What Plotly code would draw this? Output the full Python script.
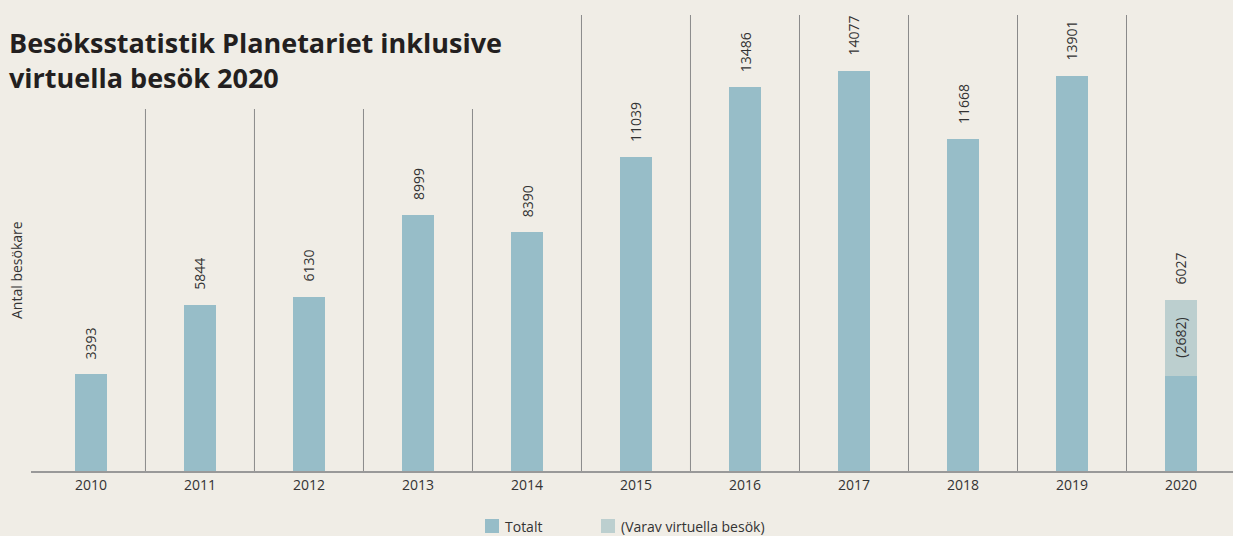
import plotly.graph_objects as go

years = ["2010", "2011", "2012", "2013", "2014", "2015", "2016", "2017", "2018", "2019", "2020"]
totals = [3393, 5844, 6130, 8999, 8390, 11039, 13486, 14077, 11668, 13901, 6027]
virtual = [0, 0, 0, 0, 0, 0, 0, 0, 0, 0, 2682]
physical = [t - v for t, v in zip(totals, virtual)]
series_names = ["Totalt", "(Varav virtuella besök)"]
title_lines = ["Besöksstatistik Planetariet inklusive", "virtuella besök 2020"]
y_title = "Antal besökare"

BG = "#f0ede6"
C_TOT = "#97bdc8"
C_VIRT = "#bccfcf"
TXT = "#333333"
FONT = "Open Sans"

W, H = 1233, 536
ML, MR, MT, MB = 31, 0, 15, 65
PW, PH = W - ML - MR, H - MT - MB


def px(xp):
    return (xp - ML) / PW


def py(yp):
    return (H - MB - yp) / PH


fig = go.Figure()
fig.add_bar(x=list(range(len(years))), y=physical, name=series_names[0],
            marker=dict(color=C_TOT, line=dict(width=0)), width=0.3, hoverinfo="skip")
fig.add_bar(x=list(range(len(years))), y=virtual, name=series_names[1],
            marker=dict(color=C_VIRT, line=dict(width=0)), width=0.3, hoverinfo="skip")

annotations = []
for i, t in enumerate(totals):
    annotations.append(dict(x=i, y=t, xref="x", yref="y", text=str(t), textangle=-90,
                            showarrow=False, xanchor="center", yanchor="bottom", yshift=13,
                            font=dict(family=FONT, size=14, color=TXT)))
for i, (p, v) in enumerate(zip(physical, virtual)):
    if v > 0:
        annotations.append(dict(x=i, y=p + v / 2, xref="x", yref="y", text=f"({v})",
                                textangle=-90, showarrow=False, xanchor="center", yanchor="middle",
                                font=dict(family=FONT, size=14, color=TXT)))

# title
annotations.append(dict(x=px(7), y=py(22), xref="paper", yref="paper", xanchor="left",
                        yanchor="top", align="left",
                        text="<br>".join(title_lines), showarrow=False,
                        font=dict(family=FONT, size=27, color="#231f20", weight=700)))

# y-axis title
annotations.append(dict(x=px(16), y=py(270), xref="paper", yref="paper", xanchor="center",
                        yanchor="middle", text=y_title, textangle=-90, showarrow=False,
                        font=dict(family=FONT, size=14, color=TXT)))

shapes = []
for i in range(len(years) - 1):
    top = py(109) if i < 4 else 1.0
    shapes.append(dict(type="line", xref="x", yref="paper", x0=i + 0.5, x1=i + 0.5,
                       y0=0, y1=top, line=dict(color="#8a8a8a", width=1)))

# manual legend
legend_items = [(485, 503, C_TOT, series_names[0]), (601, 619, C_VIRT, series_names[1])]
for sx, tx, col, name in legend_items:
    shapes.append(dict(type="rect", xref="paper", yref="paper", x0=px(sx), x1=px(sx + 14),
                       y0=py(533), y1=py(519), line=dict(width=0), fillcolor=col))
    annotations.append(dict(x=px(tx), y=py(526), xref="paper", yref="paper", xanchor="left",
                            yanchor="middle", text=name, showarrow=False,
                            font=dict(family=FONT, size=14, color=TXT)))

fig.update_layout(
    width=W, height=H,
    paper_bgcolor=BG, plot_bgcolor=BG,
    barmode="stack",
    margin=dict(l=ML, r=MR, t=MT, b=MB),
    showlegend=False,
    xaxis=dict(range=[-0.55, 10.477], showgrid=False, showline=True, zeroline=False,
               tickmode="array", tickvals=list(range(len(years))), ticktext=years,
               linecolor="#999999", linewidth=1.5, ticks="",
               tickfont=dict(family=FONT, size=14, color=TXT), fixedrange=True),
    yaxis=dict(range=[0, 16030], showgrid=False, zeroline=False, showticklabels=False,
               showline=False, fixedrange=True),
    annotations=annotations,
    shapes=shapes,
    font=dict(family=FONT),
)

fig.write_html("out.html", post_script="document.body.style.margin='0';",
               config={"displayModeBar": False})
